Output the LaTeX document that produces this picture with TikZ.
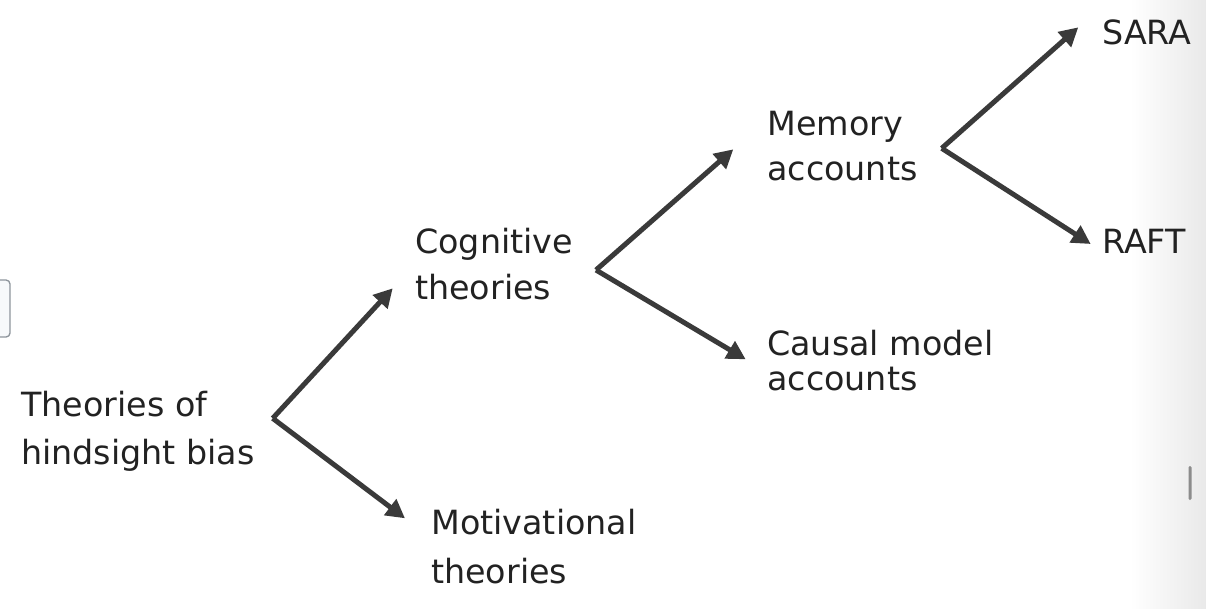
\documentclass[tikz,border=0pt]{standalone}
\usepackage{fontspec}
\setmainfont{DejaVu Sans}
\usepackage{xcolor}
\usetikzlibrary{arrows.meta,calc}
\definecolor{ink}{HTML}{222222}
\definecolor{arrowgray}{HTML}{3A3A3A}
\definecolor{boxfill}{HTML}{F7F9FB}
\definecolor{boxline}{HTML}{8E959C}
\definecolor{edgegray}{HTML}{E9E9E9}
\definecolor{thumb}{HTML}{8C8C8C}
\tikzset{
  % plain text label, positioned on the baseline of its last line
  txt/.style     = {align=left, inner sep=0pt, anchor=base west, text=ink,
                    font=\fontsize{25}{#1}\selectfont},
  txt/.default   = 36,
  arr/.style     = {-{Triangle[length=14pt,width=14.5pt]}, line width=3.75pt, arrowgray},
}

\begin{document}
\begin{tikzpicture}[x=0.75pt,y=-0.75pt]
\useasboundingbox (0,0) rectangle (1206,608);
% screen edge bits
\shade[left color=white, right color=edgegray] (1130,0) rectangle (1206,608);
\draw[boxline, fill=boxfill, rounded corners=3pt, line width=1pt] (-12,280) rectangle (10,337);
\fill[thumb, rounded corners=1pt] (1188.5,466) rectangle (1191.5,500);

\node[txt=36]    (theo) at (21,464)     {Theories of\\hindsight bias};
\node[txt=34.5]  (cog)  at (415,299.3)  {Cognitive\\theories};
\node[txt=36.75] (mot)  at (431,583.3)  {Motivational\\theories};
\node[txt=33.75] (mem)  at (767,180)    {Memory\\accounts};
\node[txt=26.25] (cau)  at (767,390)    {Causal model\\accounts};
\node[txt]       (sara) at (1102,44)    {SARA};
\node[txt]       (raft) at (1102,253)   {RAFT};

\coordinate (theofork) at ([shift={(251.7,-45.7)}]theo.base west);
\coordinate (cogfork)  at ([shift={(181,-29.3)}]cog.base west);
\coordinate (memfork)  at ([shift={(174.7,-31.7)}]mem.base west);

\draw[arr] (theofork) -- ([shift={(-22.3,-11)}]cog.base west);
\draw[arr] (theofork) -- ([shift={(-26,-65)}]mot.base west);
\draw[arr] (cogfork)  -- ([shift={(-33.7,-30.7)}]mem.base west);
\draw[arr] (cogfork)  -- ([shift={(-21.3,-30.7)}]cau.base west);
\draw[arr] (memfork)  -- ([shift={(-23.7,-16.7)}]sara.base west);
\draw[arr] (memfork)  -- ([shift={(-11.3,-9)}]raft.base west);
\end{tikzpicture}
\end{document}
